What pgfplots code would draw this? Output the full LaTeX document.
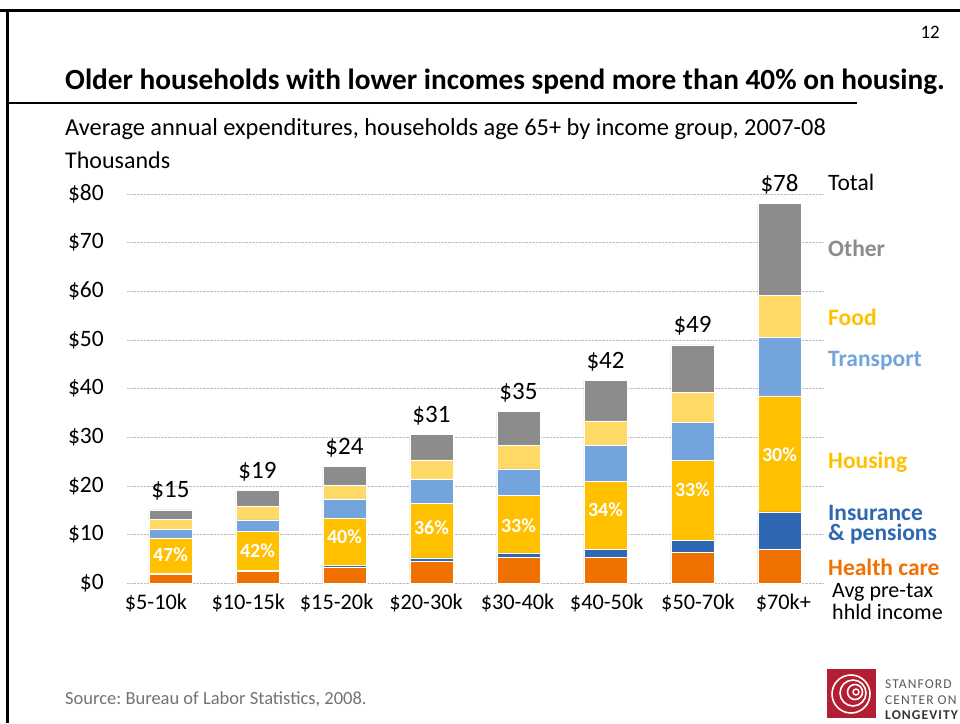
\documentclass[border=0pt]{standalone}
\usepackage{fontspec}
\setmainfont{Carlito}
\usepackage{pgfplots}
\pgfplotsset{compat=1.18}
\definecolor{cHealth}{RGB}{240,112,0}
\definecolor{cIns}{RGB}{46,104,178}
\definecolor{cHousing}{RGB}{255,192,0}
\definecolor{cTrans}{RGB}{116,164,221}
\definecolor{cFood}{RGB}{255,217,102}
\definecolor{cOther}{RGB}{140,140,140}
\definecolor{cLogo}{RGB}{180,30,50}
\newcommand{\fs}[1]{\fontsize{#1}{#1}\selectfont}
\frenchspacing
\begin{document}
\begin{tikzpicture}[x=1pt,y=1pt]
\useasboundingbox (0,0) rectangle (960,-723);
\fill[white] (0,0) rectangle (960,-723);
% slide frame
\draw[line width=3pt] (0,-10) -- (960,-10);
\draw[line width=3pt] (7.5,-10) -- (7.5,-723);
\draw[line width=1.8pt] (7.5,-103) -- (857,-103);
% texts
\node[anchor=east, inner sep=0] at (940,-32) {\fs{19}12};
\node[anchor=west, inner sep=0] at (65,-82) {\fs{29.3}\bfseries Older households with lower incomes spend more than 40\% on housing.};
\node[anchor=west, inner sep=0] at (65,-129) {\fs{24.4}Average annual expenditures, households age 65+ by income group, 2007-08};
\node[anchor=west, inner sep=0] at (65,-160) {\fs{24}Thousands};
\node[anchor=west, inner sep=0, text=black!55] at (65,-699) {\fs{18.5}Source: Bureau of Labor Statistics, 2008.};
\begin{axis}[
  at={(127pt,-583.3pt)}, anchor=south west,
  scale only axis, width=696pt, height=389.3pt,
  ybar stacked, bar width=43.3pt,
  xmin=-0.5, xmax=7.5, ymin=0, ymax=80,
  xtick={-0.167,0.894,1.910,2.937,3.989,5.014,6.063,7.044},
  xticklabels={\$5-10k,\$10-15k,\$15-20k,\$20-30k,\$30-40k,\$40-50k,\$50-70k,\$70k+},
  ytick={0,10,...,80},
  yticklabels={\$0,\$10,\$20,\$30,\$40,\$50,\$60,\$70,\$80},
  ymajorgrids, grid style={densely dotted, black!25, line width=0.6pt},
  axis line style={draw=none}, major tick length=0pt,
  yticklabel style={font=\fs{23.5}, inner sep=0pt},
  xticklabel style={font=\fs{22.3}, inner sep=0pt},
  yticklabel shift=23pt, xticklabel shift=10.5pt,
  clip=false,
  every axis plot/.append style={draw=white, line width=0.5pt},
]
\addplot[fill=cHealth] coordinates {(0,1.9) (1,2.46) (2,3.35) (3,4.45) (4,5.3) (5,5.4) (6,6.3) (7,7.05)};
\addplot[fill=cIns] coordinates {(0,0.15) (1,0.2) (2,0.4) (3,0.8) (4,0.9) (5,1.6) (6,2.6) (7,7.65)};
\addplot[fill=cHousing] coordinates {(0,7.15) (1,8.0) (2,9.65) (3,11.1) (4,11.9) (5,13.9) (6,16.4) (7,23.8)};
\addplot[fill=cTrans] coordinates {(0,1.9) (1,2.4) (2,3.8) (3,5.0) (4,5.4) (5,7.4) (6,7.7) (7,12.0)};
\addplot[fill=cFood] coordinates {(0,2.0) (1,2.8) (2,2.9) (3,4.0) (4,4.8) (5,5.1) (6,6.2) (7,8.7)};
\addplot[fill=cOther] coordinates {(0,2.0) (1,3.2) (2,3.9) (3,5.2) (4,7.0) (5,8.3) (6,9.8) (7,18.9)};
% anchor points for labels (totals and housing shares)
\coordinate (t0) at (axis cs:0,15.1);
\coordinate (t1) at (axis cs:1,19.06);
\coordinate (t2) at (axis cs:2,24.0);
\coordinate (t3) at (axis cs:3,30.55);
\coordinate (t4) at (axis cs:4,35.3);
\coordinate (t5) at (axis cs:5,41.7);
\coordinate (t6) at (axis cs:6,49.0);
\coordinate (t7) at (axis cs:7,78.1);
\coordinate (h0) at (axis cs:0,5.8);
\coordinate (h1) at (axis cs:1,6.7);
\coordinate (h2) at (axis cs:2,9.6);
\coordinate (h3) at (axis cs:3,11.4);
\coordinate (h4) at (axis cs:4,11.8);
\coordinate (h5) at (axis cs:5,15.1);
\coordinate (h6) at (axis cs:6,19.2);
\coordinate (h7) at (axis cs:7,26.4);
\end{axis}
\foreach \i/\l in {0/15,1/19,2/24,3/31,4/35,5/42,6/49,7/78}{
  \node[anchor=base, inner sep=0, yshift=12pt] at (t\i) {\fs{25}\$\l};
}
\foreach \i/\p in {0/47,1/42,2/40,3/36,4/33,5/34,6/33,7/30}{
  \node[anchor=center, inner sep=0, text=white] at (h\i) {\fs{20}\bfseries \p\%};
}
% right-hand labels
\node[anchor=west, inner sep=0] at (828,-182) {\fs{23.5}Total};
\node[anchor=west, inner sep=0, text=cOther] at (828,-248) {\fs{23.5}\bfseries Other};
\node[anchor=west, inner sep=0, text=cHousing] at (828,-317) {\fs{23.5}\bfseries Food};
\node[anchor=west, inner sep=0, text=cTrans] at (828,-361) {\fs{23.5}\bfseries Transport};
\node[anchor=west, inner sep=0, text=cHousing] at (828,-462) {\fs{23.5}\bfseries Housing};
\node[anchor=west, inner sep=0, text=cIns, align=left, font={\fontsize{23.5}{20.5}\selectfont\bfseries}] at (828,-524.5) {Insurance\\\& pensions};
\node[anchor=west, inner sep=0, text=cHealth] at (828,-567) {\fs{23.5}\bfseries Health care};
\node[anchor=west, inner sep=0, align=left, font={\fontsize{22}{22}\selectfont}] at (832,-602) {Avg pre-tax\\hhld income};
% logo
\fill[cLogo] (827,-669) rectangle (876,-718);
\draw[white, line width=1.6pt] (851,-694) circle (19);
\draw[white, line width=1.6pt] (853,-693) circle (13);
\draw[white, line width=1.6pt] (855,-692) circle (7.5);
\draw[white, line width=1.4pt] (856,-692) circle (3);
\node[anchor=west, inner sep=0, text=black!65] at (885,-684) {\fs{13.5}\addfontfeature{LetterSpace=8}STANFORD};
\node[anchor=west, inner sep=0, text=black!65] at (885,-700) {\fs{13.5}\addfontfeature{LetterSpace=8}CENTER ON};
\node[anchor=west, inner sep=0, text=black!80] at (885,-715) {\fs{13.5}\bfseries\addfontfeature{LetterSpace=8}LONGEVITY};
\end{tikzpicture}
\end{document}
